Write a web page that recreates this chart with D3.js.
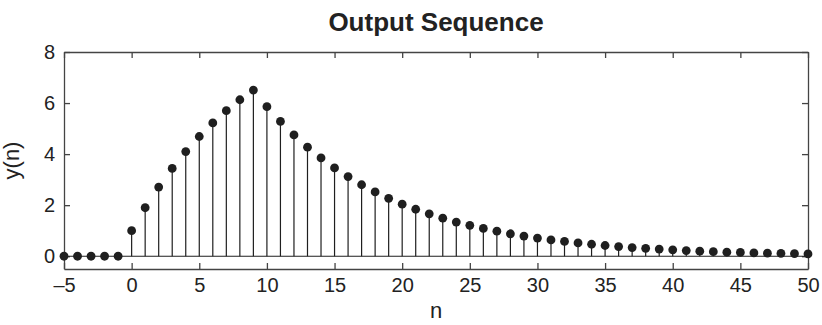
<!DOCTYPE html>
<html>
<head>
<meta charset="utf-8">
<script src="https://cdn.jsdelivr.net/npm/d3@7"></script>
<style>
  body { margin: 0; background: #fff; }
  svg { display: block; font-family: "Liberation Sans", Arial, sans-serif; }
</style>
</head>
<body>
<svg id="chart" width="822" height="325"></svg>
<script>
// Sample indices n = -5 … 50
const nValues = [-5,-4,-3,-2,-1,0,1,2,3,4,5,6,7,8,9,10,11,12,13,14,15,16,17,18,19,20,
  21,22,23,24,25,26,27,28,29,30,31,32,33,34,35,36,37,38,39,40,41,42,43,44,45,46,47,48,49,50];
// Output sequence y(n)
const yValues = [0,0,0,0,0,
  1.00,1.90,2.71,3.44,4.10,4.69,5.22,5.70,6.13,6.51,
  5.86,5.28,4.75,4.27,3.85,3.46,3.12,2.80,2.52,2.27,
  2.04,1.84,1.66,1.49,1.34,1.21,1.09,0.98,0.88,0.79,
  0.71,0.64,0.58,0.52,0.47,0.42,0.38,0.34,0.31,0.28,
  0.25,0.22,0.20,0.18,0.16,0.15,0.13,0.12,0.11,0.10,0.09];
const xTicks = [-5,0,5,10,15,20,25,30,35,40,45,50];
const yTicks = [0,2,4,6,8];

const svg = d3.select("#chart");
const m = {left: 64, right: 14, top: 52, bottom: 56};
const W = 822, H = 325;
const x = d3.scaleLinear().domain([-5, 50]).range([m.left, W - m.right]);
const y = d3.scaleLinear().domain([-0.5, 8]).range([H - m.bottom, m.top]);

const axisColor = "#444";
const markColor = "#1f1f1f";
const textColor = "#222";
const tickLen = 6;

// Axes with inward ticks (bottom/left labelled, top/right unlabelled)
const fmt = d => d < 0 ? "\u2013" + Math.abs(d) : d;
const gx = svg.append("g").attr("transform", `translate(0,${y.range()[0]})`)
  .call(d3.axisBottom(x).tickValues(xTicks).tickSizeInner(-tickLen).tickSizeOuter(0).tickPadding(9).tickFormat(fmt));
const gxt = svg.append("g").attr("transform", `translate(0,${m.top})`)
  .call(d3.axisTop(x).tickValues(xTicks).tickSizeInner(-tickLen).tickSizeOuter(0).tickFormat(""));
const gy = svg.append("g").attr("transform", `translate(${m.left},0)`)
  .call(d3.axisLeft(y).tickValues(yTicks).tickSizeInner(-tickLen).tickSizeOuter(0).tickPadding(9));
const gyr = svg.append("g").attr("transform", `translate(${W - m.right},0)`)
  .call(d3.axisRight(y).tickValues(yTicks).tickSizeInner(-tickLen).tickSizeOuter(0).tickFormat(""));

[gx, gxt, gy, gyr].forEach(g => {
  g.select(".domain").attr("stroke", axisColor).attr("stroke-width", 1.3);
  g.selectAll(".tick line").attr("stroke", axisColor).attr("stroke-width", 1.3);
  g.selectAll(".tick text").attr("fill", textColor).style("font-size", "20px");
});

// Baseline at y = 0
svg.append("line")
  .attr("x1", x(-5)).attr("x2", x(50))
  .attr("y1", y(0)).attr("y2", y(0))
  .attr("stroke", markColor).attr("stroke-width", 1.2);

const data = nValues.map((n, i) => ({n, v: yValues[i]}));

// Stems
svg.append("g").selectAll("line").data(data).join("line")
  .attr("x1", d => x(d.n)).attr("x2", d => x(d.n))
  .attr("y1", y(0)).attr("y2", d => y(d.v))
  .attr("stroke", markColor).attr("stroke-width", 1.2);

// Markers
svg.append("g").selectAll("circle").data(data).join("circle")
  .attr("cx", d => x(d.n)).attr("cy", d => y(d.v))
  .attr("r", 4.4).attr("fill", markColor);

// Title and axis labels
svg.append("text").attr("x", (m.left + W - m.right) / 2).attr("y", 31)
  .attr("text-anchor", "middle").style("font-size", "26px").style("font-weight", "bold")
  .attr("fill", textColor).text("Output Sequence");
svg.append("text").attr("x", (m.left + W - m.right) / 2).attr("y", 318)
  .attr("text-anchor", "middle").style("font-size", "22px").attr("fill", textColor).text("n");
svg.append("text").attr("transform", `translate(19,${(m.top + H - m.bottom) / 2}) rotate(-90)`)
  .attr("text-anchor", "middle").style("font-size", "22px").attr("fill", textColor).text("y(n)");
</script>
</body>
</html>
